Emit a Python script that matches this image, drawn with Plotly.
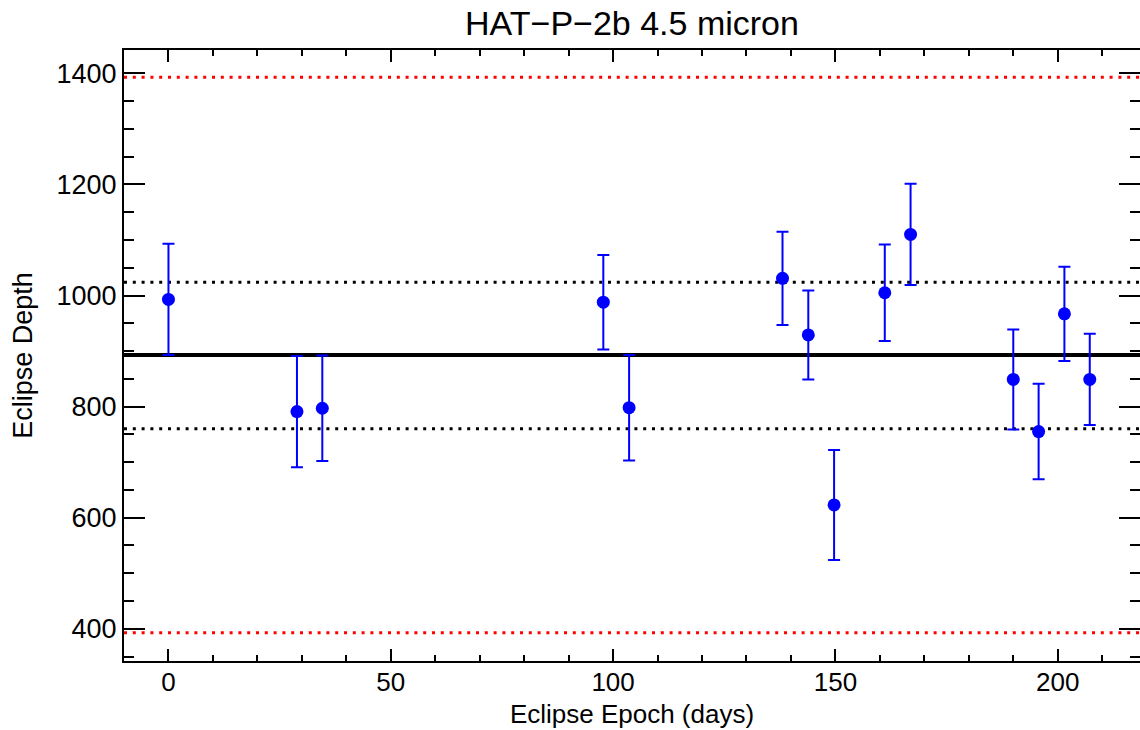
import plotly.graph_objects as go

# ---- data ----
epoch_days = [0.0, 28.9, 34.6, 97.8, 103.6, 138.1, 143.9, 149.7, 161.1, 166.9, 190.0, 195.7, 201.5, 207.2]
eclipse_depth = [993, 791, 797, 988, 798, 1031, 929, 623, 1005, 1110, 849, 755, 967, 849]
depth_error = [100, 100, 95, 85, 95, 84, 80, 99, 87, 91, 90, 86, 85, 82]

mean_depth = 893
sigma_upper = 1024
sigma_lower = 760
red_upper = 1393
red_lower = 393

x_ticks = [0, 50, 100, 150, 200]
y_ticks = [400, 600, 800, 1000, 1200, 1400]

FONT = "Liberation Sans, Arial, Helvetica, sans-serif"

fig = go.Figure()

fig.add_trace(go.Scatter(
    x=epoch_days, y=eclipse_depth, mode="markers",
    marker=dict(color="#0000FF", size=13, symbol="circle"),
    error_y=dict(type="data", array=depth_error, visible=True,
                 color="#0000FF", thickness=2, width=6),
    showlegend=False, hoverinfo="x+y",
))

# horizontal reference lines
fig.add_hline(y=mean_depth, line=dict(color="black", width=4), layer="below")
for yv in (sigma_upper, sigma_lower):
    fig.add_hline(y=yv, line=dict(color="black", width=3, dash="3px,5.8px"), layer="below")
for yv in (red_upper, red_lower):
    fig.add_hline(y=yv, line=dict(color="#FF0000", width=3, dash="3px,5.8px"), layer="below")

axis_common = dict(
    showgrid=False, zeroline=False, showline=True, linecolor="black", linewidth=2,
    mirror="ticks", ticks="inside", tickcolor="black", tickwidth=2,
    automargin=False,
)

fig.update_xaxes(
    **axis_common,
    range=[-10, 218.5], tickvals=x_ticks, ticktext=[str(v) for v in x_ticks],
    tickfont=dict(family=FONT, size=26, color="black"),
    ticklen=12, ticklabelstandoff=-3,
    minor=dict(dtick=10, tick0=0, ticks="inside", ticklen=6, tickwidth=2, tickcolor="black"),
    title=dict(text="Eclipse Epoch (days)", font=dict(family=FONT, size=26, color="black"), standoff=9),
)
fig.update_yaxes(
    **axis_common,
    range=[342, 1442], tickvals=y_ticks, ticktext=[str(v) for v in y_ticks],
    tickfont=dict(family=FONT, size=27, color="black"),
    ticklen=21, ticklabelstandoff=0,
    minor=dict(dtick=50, tick0=0, ticks="inside", ticklen=10, tickwidth=2, tickcolor="black"),
    title=dict(text="Eclipse Depth", font=dict(family=FONT, size=27, color="black"), standoff=16),
)

fig.update_layout(
    width=1140, height=730,
    margin=dict(l=124, r=0, t=50, b=69),
    paper_bgcolor="white", plot_bgcolor="white",
    title=dict(text="HAT\u2212P\u22122b 4.5 micron", x=(124 + 1140) / 2 / 1140, xanchor="center",
               y=1 - 23 / 730, yanchor="middle", yref="container",
               font=dict(family=FONT, size=34, color="black")),
    showlegend=False,
)

fig.write_html("out.html")
